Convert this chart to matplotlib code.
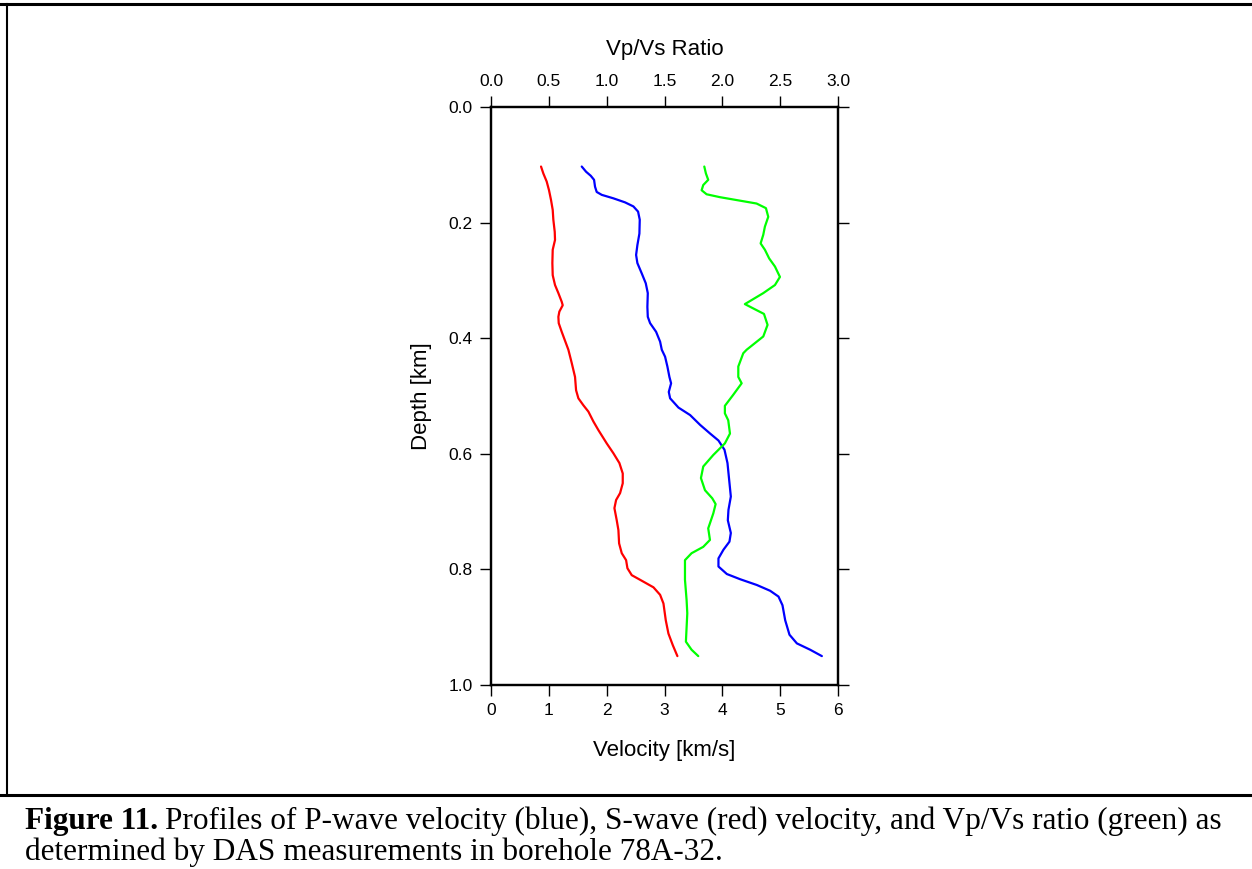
import numpy as np
import matplotlib.pyplot as plt
from matplotlib.lines import Line2D

# S-wave velocity (red): depth [km], velocity [km/s]
vs_depth = [0.103, 0.115, 0.129, 0.144, 0.161, 0.178, 0.195, 0.216, 0.230, 0.247, 0.270,
            0.291, 0.308, 0.322, 0.337, 0.343, 0.354, 0.363, 0.374, 0.389, 0.420, 0.443,
            0.467, 0.490, 0.504, 0.516, 0.527, 0.544, 0.559, 0.582, 0.599, 0.616, 0.634,
            0.651, 0.668, 0.680, 0.694, 0.715, 0.732, 0.755, 0.772, 0.784, 0.798, 0.810,
            0.818, 0.831, 0.844, 0.859, 0.888, 0.911, 0.931, 0.950]
vs_vel = [0.865, 0.905, 0.963, 1.003, 1.038, 1.067, 1.078, 1.102, 1.107, 1.067, 1.061,
          1.067, 1.107, 1.165, 1.223, 1.240, 1.182, 1.165, 1.171, 1.223, 1.338, 1.396,
          1.453, 1.471, 1.511, 1.597, 1.684, 1.770, 1.857, 2.001, 2.116, 2.220, 2.278,
          2.278, 2.232, 2.163, 2.134, 2.174, 2.203, 2.215, 2.261, 2.336, 2.359, 2.434,
          2.578, 2.809, 2.924, 2.982, 3.022, 3.068, 3.143, 3.223]

# P-wave velocity (blue)
vp_depth = [0.103, 0.112, 0.119, 0.126, 0.138, 0.147, 0.152, 0.158, 0.165, 0.172, 0.181,
            0.195, 0.219, 0.239, 0.256, 0.270, 0.288, 0.305, 0.322, 0.346, 0.363, 0.374,
            0.389, 0.406, 0.420, 0.432, 0.449, 0.467, 0.478, 0.493, 0.504, 0.520, 0.533,
            0.550, 0.565, 0.577, 0.593, 0.616, 0.645, 0.674, 0.697, 0.715, 0.737, 0.752,
            0.766, 0.781, 0.795, 0.808, 0.817, 0.827, 0.837, 0.847, 0.862, 0.888, 0.913,
            0.928, 0.939, 0.950]
vp_vel = [1.569, 1.644, 1.725, 1.782, 1.799, 1.828, 1.915, 2.116, 2.318, 2.462, 2.543,
          2.572, 2.566, 2.531, 2.509, 2.531, 2.607, 2.676, 2.711, 2.704, 2.711, 2.751,
          2.855, 2.924, 2.953, 3.010, 3.050, 3.085, 3.114, 3.074, 3.097, 3.241, 3.443,
          3.616, 3.789, 3.933, 4.037, 4.089, 4.118, 4.147, 4.106, 4.095, 4.147, 4.123,
          4.019, 3.933, 3.933, 4.078, 4.308, 4.597, 4.827, 4.971, 5.040, 5.087, 5.161,
          5.289, 5.519, 5.721]

# Vp/Vs ratio (green), read on the top axis
ratio_depth = [0.103, 0.115, 0.126, 0.135, 0.144, 0.151, 0.156, 0.161, 0.167, 0.175, 0.190,
               0.207, 0.221, 0.236, 0.247, 0.262, 0.276, 0.294, 0.308, 0.322, 0.341, 0.350,
               0.358, 0.377, 0.397, 0.420, 0.426, 0.449, 0.467, 0.478, 0.498, 0.517, 0.530,
               0.542, 0.565, 0.582, 0.602, 0.622, 0.642, 0.663, 0.677, 0.687, 0.703, 0.729,
               0.749, 0.761, 0.772, 0.784, 0.818, 0.853, 0.876, 0.925, 0.939, 0.950]
ratio_val = [1.844, 1.858, 1.878, 1.835, 1.821, 1.864, 1.979, 2.123, 2.296, 2.377, 2.397,
             2.368, 2.354, 2.331, 2.368, 2.405, 2.455, 2.498, 2.455, 2.354, 2.195, 2.282,
             2.360, 2.391, 2.354, 2.210, 2.181, 2.138, 2.138, 2.167, 2.094, 2.022, 2.022,
             2.051, 2.066, 2.022, 1.922, 1.835, 1.815, 1.850, 1.913, 1.942, 1.922, 1.878,
             1.893, 1.835, 1.734, 1.677, 1.677, 1.691, 1.697, 1.685, 1.734, 1.792]

vel_ticks = [0, 1, 2, 3, 4, 5, 6]
ratio_ticks = [0.0, 0.5, 1.0, 1.5, 2.0, 2.5, 3.0]
depth_ticks = [0.0, 0.2, 0.4, 0.6, 0.8, 1.0]

sans = ['Liberation Sans', 'DejaVu Sans']
serif = ['Liberation Serif', 'DejaVu Serif']
plt.rcParams['font.family'] = sans

W, H = 1252, 869
fig = plt.figure(figsize=(W / 100, H / 100), dpi=100)
ax = fig.add_axes([491 / W, 1 - 685 / H, 347 / W, 578 / H])

line_kw = dict(lw=1.6, solid_joinstyle='round', solid_capstyle='round')
ax.plot(vs_vel, vs_depth, color='#ff0000', **line_kw)
ax.plot(vp_vel, vp_depth, color='#0000ff', **line_kw)
ax.set_xlim(0, 6)
ax.set_ylim(1.0, 0.0)
ax.set_xticks(vel_ticks)
ax.set_yticks(depth_ticks)
ax.set_yticklabels([f'{d:.1f}' for d in depth_ticks])
ax.set_xlabel('Velocity [km/s]', fontsize=16, labelpad=16)
ax.set_ylabel('Depth [km]', fontsize=16, labelpad=12)
ax.tick_params(direction='out', length=8, width=1, labelsize=12.5, pad=5,
               right=True, labelright=False)

ax2 = ax.twiny()
ax2.plot(ratio_val, ratio_depth, color='#00ff00', **line_kw)
ax2.set_xlim(0, 3)
ax2.set_ylim(1.0, 0.0)
ax2.set_xticks(ratio_ticks)
ax2.set_xticklabels([f'{r:.1f}' for r in ratio_ticks])
ax2.set_xlabel('Vp/Vs Ratio', fontsize=16, labelpad=14)
ax2.tick_params(direction='out', length=8, width=1, labelsize=12.5, pad=5)

for a in (ax, ax2):
    for s in a.spines.values():
        s.set_linewidth(1.6)

# page frame lines
fig.add_artist(Line2D([0, 1], [1 - 4 / H, 1 - 4 / H], color='black', lw=2.2))
fig.add_artist(Line2D([7 / W, 7 / W], [1 - 4 / H, 1 - 795 / H], color='black', lw=1.5))
fig.add_artist(Line2D([0, 1], [1 - 795 / H, 1 - 795 / H], color='black', lw=2.2))

# caption
fs = 22.5
t1 = fig.text(25 / W, 1 - 829 / H, 'Figure 11.', fontsize=fs, fontweight='bold',
              family=serif, va='baseline')
fig.canvas.draw()
bb = t1.get_window_extent()
fig.text((bb.x1 + 7) / W, 1 - 829 / H,
         'Profiles of P-wave velocity (blue), S-wave (red) velocity, and Vp/Vs ratio (green) as',
         fontsize=fs, family=serif, va='baseline')
fig.text(25 / W, 1 - 860 / H, 'determined by DAS measurements in borehole 78A-32.',
         fontsize=fs, family=serif, va='baseline')

fig.savefig('out.png', dpi=100)
